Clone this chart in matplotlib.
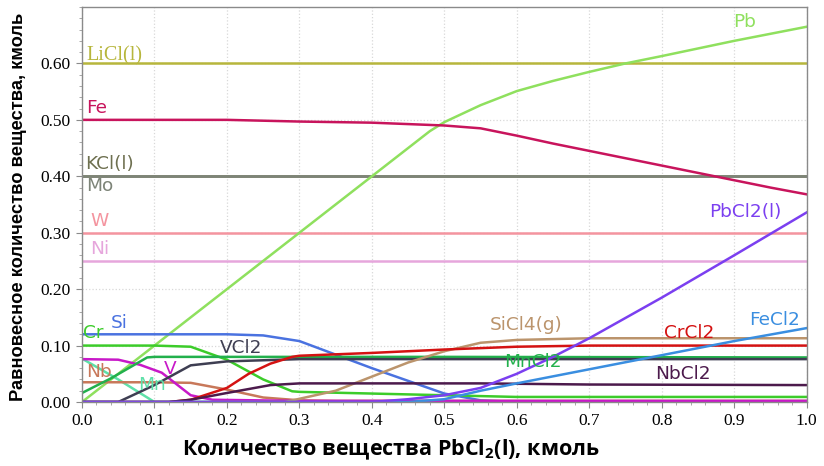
import matplotlib
matplotlib.use("Agg")
import matplotlib.pyplot as plt
from matplotlib.ticker import MultipleLocator, FormatStrFormatter

# Equilibrium composition vs. amount of PbCl2(l) added
x_const = [0.0, 1.0]
licl = [0.60, 0.60]
kcl = [0.40, 0.40]
mo = [0.40, 0.40]
w = [0.30, 0.30]
ni = [0.25, 0.25]

pb_x = [0.0, 0.1, 0.2, 0.3, 0.4, 0.48, 0.5, 0.52, 0.55, 0.6, 0.65, 0.7, 0.75, 0.8, 0.9, 1.0]
pb_y = [0.0, 0.1, 0.2, 0.3, 0.4, 0.48, 0.496, 0.508, 0.526, 0.551, 0.569, 0.585, 0.60, 0.613, 0.64, 0.665]

fe_x = [0.0, 0.1, 0.2, 0.3, 0.4, 0.5, 0.55, 0.6, 0.65, 0.7, 0.75, 0.8, 0.85, 0.9, 0.95, 1.0]
fe_y = [0.50, 0.50, 0.50, 0.497, 0.495, 0.49, 0.485, 0.472, 0.458, 0.445, 0.432, 0.419, 0.406, 0.393, 0.38, 0.368]

pbcl2_x = [0.0, 0.4, 0.45, 0.5, 0.55, 0.6, 0.65, 0.7, 0.8, 0.9, 1.0]
pbcl2_y = [0.0, 0.0, 0.005, 0.012, 0.025, 0.05, 0.08, 0.113, 0.185, 0.26, 0.336]

fecl2_x = [0.0, 0.45, 0.5, 0.55, 0.6, 0.7, 0.8, 0.9, 1.0]
fecl2_y = [0.0, 0.0, 0.005, 0.02, 0.033, 0.058, 0.083, 0.108, 0.131]

si_x = [0.0, 0.1, 0.2, 0.25, 0.3, 0.4, 0.5, 0.55, 0.6, 1.0]
si_y = [0.12, 0.12, 0.12, 0.118, 0.108, 0.06, 0.015, 0.003, 0.0, 0.0]

cr_x = [0.0, 0.1, 0.15, 0.2, 0.25, 0.29, 0.3, 0.4, 0.5, 0.6, 1.0]
cr_y = [0.10, 0.10, 0.098, 0.075, 0.04, 0.019, 0.018, 0.015, 0.012, 0.009, 0.009]

mncl2_x = [0.0, 0.04, 0.09, 0.1, 0.5, 1.0]
mncl2_y = [0.016, 0.042, 0.079, 0.080, 0.080, 0.079]

mn_x = [0.0, 0.05, 0.1, 1.0]
mn_y = [0.077, 0.040, 0.0, 0.0]

v_x = [0.0, 0.05, 0.08, 0.11, 0.13, 0.15, 0.18, 0.3, 1.0]
v_y = [0.076, 0.075, 0.066, 0.052, 0.032, 0.012, 0.004, 0.002, 0.002]

nb_x = [0.0, 0.1, 0.15, 0.2, 0.25, 0.3, 0.35, 1.0]
nb_y = [0.035, 0.035, 0.034, 0.022, 0.008, 0.003, 0.002, 0.002]

sicl4_x = [0.0, 0.28, 0.35, 0.4, 0.45, 0.5, 0.55, 0.6, 0.7, 1.0]
sicl4_y = [0.0, 0.0, 0.02, 0.045, 0.07, 0.09, 0.105, 0.11, 0.113, 0.113]

crcl2_x = [0.0, 0.12, 0.15, 0.2, 0.23, 0.26, 0.29, 0.3, 0.4, 0.5, 0.6, 0.7, 1.0]
crcl2_y = [0.0, 0.0, 0.004, 0.025, 0.05, 0.068, 0.08, 0.082, 0.087, 0.093, 0.098, 0.10, 0.10]

vcl2_x = [0.0, 0.05, 0.1, 0.15, 0.2, 0.3, 1.0]
vcl2_y = [0.0, 0.0, 0.03, 0.065, 0.072, 0.076, 0.076]

nbcl2_x = [0.0, 0.12, 0.15, 0.2, 0.26, 0.3, 0.55, 0.7, 1.0]
nbcl2_y = [0.0, 0.0, 0.004, 0.016, 0.03, 0.033, 0.033, 0.031, 0.030]

series = [
    (x_const, licl, "#b7b63c"),
    (x_const, kcl, "#6e7050"),
    (x_const, mo, "#7d8478"),
    (x_const, w, "#f4949f"),
    (x_const, ni, "#e6a6dc"),
    (pb_x, pb_y, "#8fe05e"),
    (fe_x, fe_y, "#c8145c"),
    (si_x, si_y, "#4a72e0"),
    (cr_x, cr_y, "#3ccc2a"),
    (mn_x, mn_y, "#5ee0a8"),
    (nb_x, nb_y, "#c8785a"),
    (v_x, v_y, "#c818c8"),
    (mncl2_x, mncl2_y, "#22b04c"),
    (vcl2_x, vcl2_y, "#3e3e52"),
    (sicl4_x, sicl4_y, "#bb946c"),
    (crcl2_x, crcl2_y, "#d41212"),
    (nbcl2_x, nbcl2_y, "#4c1a4c"),
    (fecl2_x, fecl2_y, "#3a8ee0"),
    (pbcl2_x, pbcl2_y, "#7b3ff0"),
]

labels = [
    ("LiCl(l)", 0.006, 0.613, "#b7b63c", "serif"),
    ("Fe", 0.006, 0.521, "#c8145c", "sans"),
    ("KCl(l)", 0.004, 0.421, "#6e7050", "sans"),
    ("Mo", 0.006, 0.382, "#7d8478", "sans"),
    ("W", 0.011, 0.321, "#f4949f", "sans"),
    ("Ni", 0.011, 0.271, "#e6a6dc", "sans"),
    ("Cr", 0.001, 0.122, "#3ccc2a", "sans"),
    ("Si", 0.040, 0.140, "#4a72e0", "sans"),
    ("Nb", 0.006, 0.053, "#c8785a", "sans"),
    ("Mn", 0.077, 0.031, "#5ee0a8", "sans"),
    ("V", 0.113, 0.059, "#c818c8", "sans"),
    ("VCl2", 0.190, 0.096, "#3e3e52", "sans"),
    ("SiCl4(g)", 0.562, 0.137, "#bb946c", "sans"),
    ("CrCl2", 0.803, 0.122, "#d41212", "sans"),
    ("MnCl2", 0.583, 0.071, "#22b04c", "sans"),
    ("NbCl2", 0.791, 0.050, "#4c1a4c", "sans"),
    ("FeCl2", 0.920, 0.146, "#3a8ee0", "sans"),
    ("PbCl2(l)", 0.866, 0.337, "#7b3ff0", "sans"),
    ("Pb", 0.898, 0.673, "#8fe05e", "sans"),
]

fig = plt.figure(figsize=(8.24, 4.66), dpi=100)
ax = fig.add_axes([0.0995, 0.1373, 0.8795, 0.8477])

for xs, ys, c in series:
    ax.plot(xs, ys, color=c, lw=1.8, solid_joinstyle="round")

for text, lx, ly, c, fam in labels:
    if fam == "serif":
        ax.text(lx, ly, text, color=c, fontsize=14.5, family=["Liberation Serif"],
                ha="left", va="center")
    else:
        ax.text(lx, ly, text, color=c, fontsize=13.3, family=["DejaVu Sans"],
                ha="left", va="center")

ax.set_xlim(0, 1.0)
ax.set_ylim(0, 0.70)
ax.xaxis.set_major_locator(MultipleLocator(0.1))
ax.xaxis.set_minor_locator(MultipleLocator(0.02))
ax.yaxis.set_major_locator(MultipleLocator(0.1))
ax.yaxis.set_minor_locator(MultipleLocator(0.02))
ax.xaxis.set_major_formatter(FormatStrFormatter("%.1f"))
ax.yaxis.set_major_formatter(FormatStrFormatter("%.2f"))
ax.set_yticks([0.0, 0.1, 0.2, 0.3, 0.4, 0.5, 0.6])

ax.grid(True, which="major", color="#d8d8d8", linestyle=":", linewidth=0.9)
ax.set_axisbelow(True)
for s in ax.spines.values():
    s.set_color("#8a8a8a")
    s.set_linewidth(1.0)

ax.tick_params(axis="both", which="major", length=4, color="#8a8a8a",
               labelsize=12.5, pad=4)
ax.tick_params(axis="both", which="minor", length=2, color="#9a9a9a")
for lbl in ax.get_xticklabels() + ax.get_yticklabels():
    lbl.set_family("Liberation Serif")

fig.text(0.474, 0.035, "Количество вещества PbCl$_\\mathregular{2}$(l), кмоль",
         ha="center", va="center", fontsize=15.5, fontweight="bold",
         family=["Open Sans"])
fig.text(0.022, 0.555, "Равновесное количество вещества, кмоль",
         ha="center", va="center", rotation=90, fontsize=13.2,
         fontweight="bold", family=["Liberation Sans"])

fig.savefig("out.png", dpi=100)
